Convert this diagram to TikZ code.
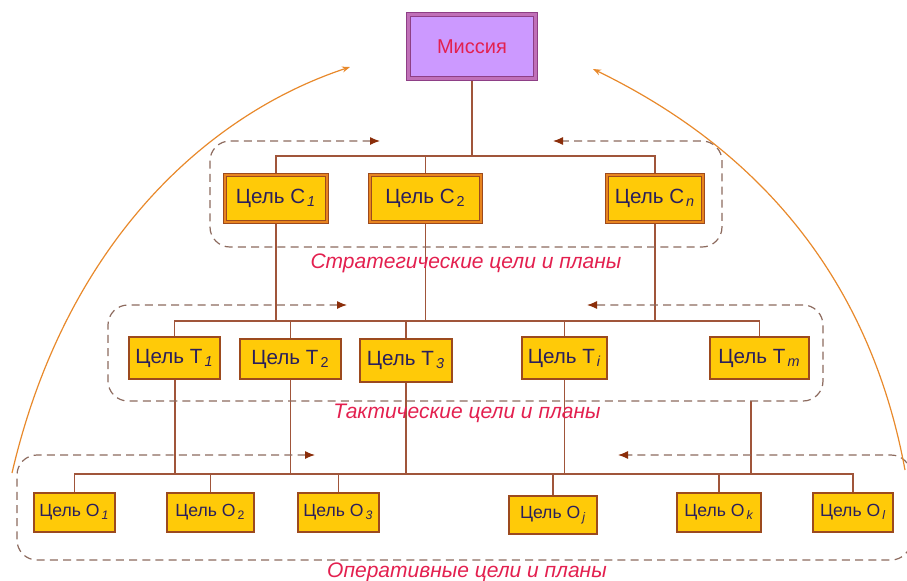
\documentclass[tikz,border=0pt]{standalone}
\usepackage{fontspec}
\setmainfont{Liberation Sans}
\usepackage{tikz}
\usetikzlibrary{arrows.meta}
\pgfdeclarelayer{bg}
\pgfsetlayers{bg,main}
\definecolor{goalfill}{HTML}{FFCA08}
\definecolor{goalline}{HTML}{9C4A1E}
\definecolor{goalring}{HTML}{E8841F}
\definecolor{goaltext}{HTML}{2A1F5C}
\definecolor{linkcol}{HTML}{A0553A}
\definecolor{framecol}{HTML}{8C6A5E}
\definecolor{tipcol}{HTML}{8B2E0A}
\definecolor{arccol}{HTML}{E8892B}
\definecolor{plancol}{HTML}{E3204F}
\definecolor{missfill}{HTML}{CC99FF}
\definecolor{missline}{HTML}{8E3F86}
\definecolor{missring}{HTML}{C070B8}
\newcommand{\isub}[1]{\kern1pt\textsubscript{\itshape #1}}
\newcommand{\usub}[1]{\kern1pt\textsubscript{#1}}
\tikzset{every picture/.append style={x=0.5pt, y=-0.5pt}}
\tikzset{
    goal/.style={rectangle, fill=goalfill, draw=goalline, line width=0.6pt,
        text=goaltext, inner sep=0pt},
    cgoal/.style={goal, minimum width=#1, minimum height=23.5pt,
        line width=0.5pt, double=goalring, double distance=1pt,
        font=\fontsize{10.3}{12}\selectfont},
    tgoal/.style={goal, minimum width=#1, minimum height=21pt,
        font=\fontsize{10.3}{12}\selectfont},
    ogoal/.style={goal, minimum width=#1, minimum height=19.5pt,
        font=\fontsize{8.8}{10}\selectfont},
    mission/.style={rectangle, fill=missfill, draw=missline, line width=0.5pt,
        double=missring, double distance=1.2pt, text=plancol,
        minimum width=63.5pt, minimum height=32pt, inner sep=0pt,
        font=\fontsize{10}{12}\selectfont},
    link/.style={draw=linkcol, line width=0.7pt},
    frame/.style={draw=framecol, line width=0.6pt, dash pattern=on 4pt off 2.6pt,
        rounded corners=10pt, {Latex[length=5pt,width=4pt,color=tipcol]}-{Latex[length=5pt,width=4pt,color=tipcol]}},
    bigarc/.style={draw=arccol, line width=0.6pt, -{Stealth[length=4pt,width=3pt]}},
    plan/.style={text=plancol, inner sep=0pt, font=\fontsize{10.5}{12}\selectfont\itshape}
}

\begin{document}
\begin{tikzpicture}
  \useasboundingbox (0,0) rectangle (907,580);

  % mission
  \node (mission) [mission] at (472, 46.5) {Миссия};

  % strategic level
  \node (c1) [cgoal=51pt] at (276, 198.5) {Цель С\isub{1}};
  \node (c2) [cgoal=55.5pt] at (425.5, 198.5) {Цель С\usub{2}};
  \node (cn) [cgoal=48pt] at (655, 198.5) {Цель С\isub{n}};
  \node (splan) [plan] at (466, 263) {Стратегические цели и планы};

  % tactical level
  \node (t1) [tgoal=45.5pt] at (174.5, 358) {Цель Т\isub{1}};
  \node (t2) [tgoal=50.5pt, minimum height=20pt] at (290.5, 359) {Цель Т\usub{2}};
  \node (t3) [tgoal=46pt, minimum height=21.5pt] at (406, 360.5) {Цель Т\isub{3}};
  \node (ti) [tgoal=42.5pt] at (564.5, 358) {Цель Т\isub{i}};
  \node (tm) [tgoal=49.5pt] at (759.5, 358) {Цель Т\isub{m}};
  \node (tplan) [plan] at (467, 413) {Тактические цели и планы};

  % operative level
  \node (o1) [ogoal=40.5pt] at (74.5, 512.5) {Цель О\isub{1}};
  \node (o2) [ogoal=43.5pt] at (210.5, 512.5) {Цель О\usub{2}};
  \node (o3) [ogoal=40.5pt] at (338.5, 512.5) {Цель О\isub{3}};
  \node (oj) [ogoal=44pt, minimum height=19pt] at (553, 515) {Цель О\isub{j}};
  \node (ok) [ogoal=42pt] at (719, 512.5) {Цель О\isub{k}};
  \node (ol) [ogoal=40pt] at (853, 512.5) {Цель О\isub{l}};
  \node (oplan) [plan] at (467, 572) {Оперативные цели и планы};

  \coordinate (sbus) at (0, 156);
  \coordinate (tbus) at (0, 321);
  \coordinate (obus) at (0, 474);
  \coordinate (tmdrop) at (751, 401);

  \begin{pgfonlayer}{bg}
    % tree
    \draw[link] (mission.south) -- (mission.south |- sbus);
    \draw[link] (c1.north) -- (c1.north |- sbus) -- (cn.north |- sbus) -- (cn.north);
    \draw[link] (c2.north) -- (c2.north |- sbus);
    \draw[link] (c1.south) -- (c1.south |- tbus);
    \draw[link] (c2.south) -- (c2.south |- tbus);
    \draw[link] (cn.south) -- (cn.south |- tbus);
    \draw[link] (t1.north) -- (t1.north |- tbus) -- (tm.north |- tbus) -- (tm.north);
    \draw[link] (t2.north) -- (t2.north |- tbus);
    \draw[link] (t3.north) -- (t3.north |- tbus);
    \draw[link] (ti.north) -- (ti.north |- tbus);
    \draw[link, line width=1pt] (t1.south) -- (t1.south |- obus);
    \draw[link] (t2.south) -- (t2.south |- obus);
    \draw[link] (t3.south) -- (t3.south |- obus);
    \draw[link] (ti.south) -- (ti.south |- obus);
    \draw[link] (tmdrop) -- (tmdrop |- obus);
    \draw[link] (o1.north) -- (o1.north |- obus) -- (ol.north |- obus) -- (ol.north);
    \draw[link] (o2.north) -- (o2.north |- obus);
    \draw[link] (o3.north) -- (o3.north |- obus);
    \draw[link] (oj.north) -- (oj.north |- obus);
    \draw[link] (ok.north) -- (ok.north |- obus);

    % level frames
    \draw[frame] (380,141) -- (210,141) -- (210,247) -- (722,247) -- (722,141) -- (553,141);
    \draw[frame] (347,305) -- (108,305) -- (108,401) -- (823,401) -- (823,305) -- (587,305);
    \draw[frame] (315,455) -- (17,455) -- (17,560) -- (911,560) -- (911,455) -- (618,455);

    % feedback arcs
    \draw[bigarc] (12,473) .. controls (65,245) and (205,115) .. (350,67);
    \draw[bigarc] (905,470) .. controls (870,280) and (760,150) .. (593,69);
  \end{pgfonlayer}

\end{tikzpicture}
\end{document}
